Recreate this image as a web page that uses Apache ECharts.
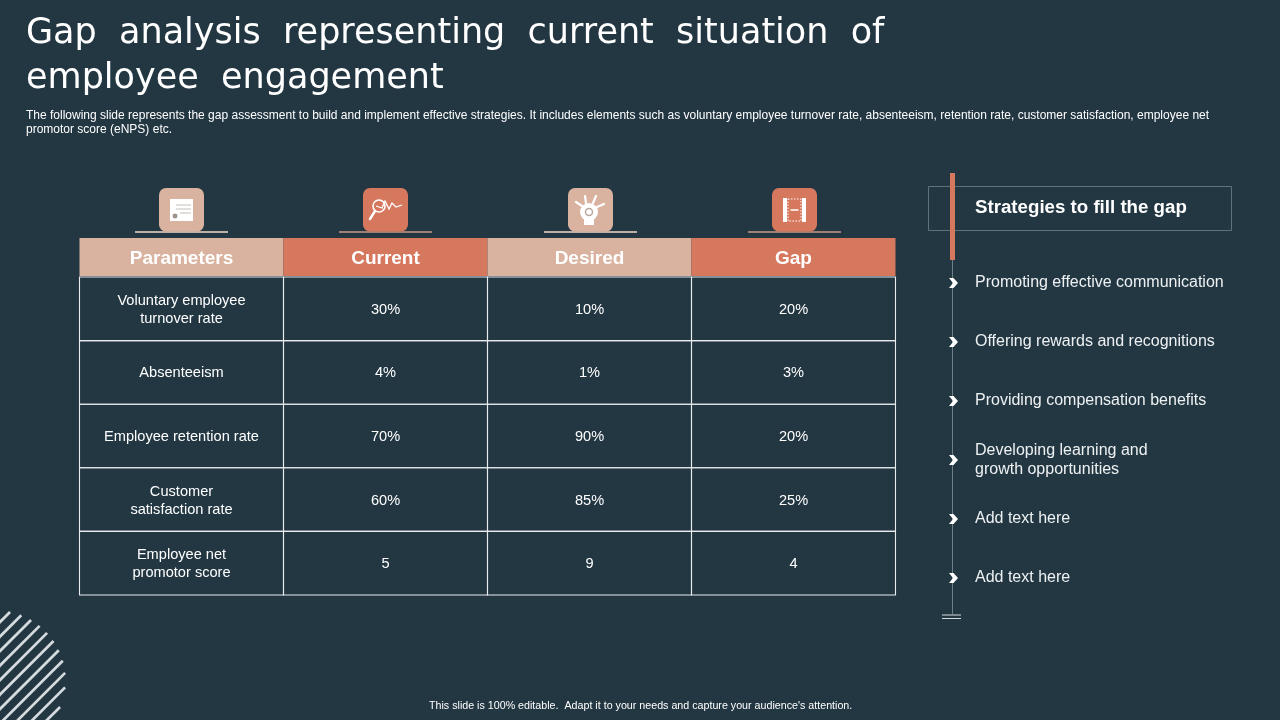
<!DOCTYPE html>
<html>
<head>
<meta charset="utf-8">
<title>Gap analysis</title>
<script src="https://cdn.jsdelivr.net/npm/echarts@6/dist/echarts.min.js"></script>
<style>
    html, body { margin: 0; padding: 0; background: #233743; }
    #main { width: 1280px; height: 720px; }
</style>
</head>
<body>
<div id="main"></div>
<script>
(function() {
    'use strict';

    var columns = ['Parameters', 'Current', 'Desired', 'Gap'];
    var parameters = ['Voluntary employee\nturnover rate', 'Absenteeism', 'Employee retention rate', 'Customer\nsatisfaction rate', 'Employee net\npromotor score'];
    var current = ['30%', '4%', '70%', '60%', '5'];
    var desired = ['10%', '1%', '90%', '85%', '9'];
    var gap = ['20%', '3%', '20%', '25%', '4'];
    var strategies = ['Promoting effective communication', 'Offering rewards and recognitions', 'Providing compensation benefits', 'Developing learning and\ngrowth opportunities', 'Add text here', 'Add text here'];

    var BG = '#233743';
    var SALMON = '#D6785E';
    var TAN = '#D9B3A0';
    var SANS = '"Liberation Sans", Arial, sans-serif';

    var myChart = echarts.init(document.getElementById('main'));

    // table cells, one [col, row, text] per cell
    var headerCells = columns.map(function(c, i) {
        return [i, 0, c];
    });
    var bodyCells = [];
    [parameters, current, desired, gap].forEach(function(col, i) {
        col.forEach(function(t, r) {
            bodyCells.push([i, r, t]);
        });
    });

    var renderHeader = function(params, api) {
        var i = api.value(0);
        var c = api.coord([i, 0]);
        var s = api.size([1, 1]);
        return {
            type: 'group',
            children: [{
                type: 'rect',
                shape: { x: c[0] - s[0] / 2, y: c[1] - s[1] / 2, width: s[0], height: s[1] },
                style: { fill: i % 2 === 0 ? TAN : SALMON }
            }, {
                type: 'text',
                style: {
                    x: c[0], y: c[1] + 1.5, text: columns[i], fill: '#fff',
                    align: 'center', verticalAlign: 'middle',
                    font: 'bold 19px ' + SANS
                }
            }]
        };
    };

    var renderBody = function(params, api) {
        var c = api.coord([api.value(0), api.value(1)]);
        var s = api.size([1, 1]);
        return {
            type: 'group',
            children: [{
                type: 'rect',
                shape: { x: c[0] - s[0] / 2, y: c[1] - s[1] / 2, width: s[0], height: s[1] },
                style: { fill: 'none', stroke: '#E8ECEE', lineWidth: 1.1 }
            }, {
                type: 'text',
                style: {
                    x: c[0], y: c[1] + 1, text: bodyCells[params.dataIndex][2], fill: '#fff',
                    align: 'center', verticalAlign: 'middle', lineHeight: 18,
                    font: '14.6px ' + SANS
                }
            }]
        };
    };

    // hatched circle bottom left
    var hatch = [];
    var cx = -4, cy = 680, rad = 69.5;
    for (var k = 622; k < 800; k += 14.5) {
        var d = (k - cx - cy) / Math.SQRT2;
        if (Math.abs(d) >= rad) continue;
        var h = Math.sqrt(rad * rad - d * d);
        var mx = cx + d / Math.SQRT2, my = cy + d / Math.SQRT2;
        var off = h / Math.SQRT2;
        hatch.push({
            type: 'line',
            shape: { x1: mx - off, y1: my + off, x2: mx + off, y2: my - off },
            style: { stroke: '#D5DBDE', lineWidth: 2.7 }
        });
    }

    var iconLine = function(x1, y1, x2, y2, w) {
        return {
            type: 'line',
            shape: { x1: x1, y1: y1, x2: x2, y2: y2 },
            style: { stroke: '#fff', lineWidth: w || 1.5, lineCap: 'round' }
        };
    };

    var iconBox = function(x, fill, lineColor) {
        return [{
            type: 'line',
            shape: { x1: x - 24, y1: 232, x2: x + 69, y2: 232 },
            style: { stroke: lineColor, lineWidth: 2 }
        }, {
            type: 'rect',
            shape: { x: x, y: 188, width: 45, height: 43.5, r: 7 },
            style: { fill: fill }
        }];
    };

    var iconDoc = [
        { type: 'rect', shape: { x: 170, y: 199, width: 23, height: 22 }, style: { fill: '#fff' } },
        { type: 'line', shape: { x1: 176, y1: 205, x2: 191, y2: 205 }, style: { stroke: '#C9BDB5', lineWidth: 1 } },
        { type: 'line', shape: { x1: 176, y1: 209, x2: 191, y2: 209 }, style: { stroke: '#C9BDB5', lineWidth: 1 } },
        { type: 'line', shape: { x1: 180, y1: 213, x2: 191, y2: 213 }, style: { stroke: '#C9BDB5', lineWidth: 1 } },
        { type: 'circle', shape: { cx: 175, cy: 216, r: 3 }, style: { fill: '#9F9288', stroke: '#fff', lineWidth: 1 } }
    ];
    var iconSearch = [
        { type: 'circle', shape: { cx: 379, cy: 206, r: 6 }, style: { fill: 'none', stroke: '#fff', lineWidth: 1.6 } },
        iconLine(375, 211, 370, 219, 2.4),
        { type: 'polyline', shape: { points: [[376, 206], [382, 208], [385, 201], [389, 209], [392, 203], [396, 207], [402, 205]] }, style: { fill: 'none', stroke: '#fff', lineWidth: 1.3 } }
    ];
    var iconHand = [
        { type: 'circle', shape: { cx: 589, cy: 212, r: 9 }, style: { fill: '#fff' } },
        { type: 'rect', shape: { x: 584, y: 216, width: 10, height: 9 }, style: { fill: '#fff' } },
        { type: 'circle', shape: { cx: 589, cy: 212, r: 3.5 }, style: { fill: 'none', stroke: '#B9A79C', lineWidth: 1.5 } },
        iconLine(582, 206, 576, 202, 2.2),
        iconLine(586, 203, 585, 196, 2.2),
        iconLine(593, 203, 596, 196, 2.2),
        iconLine(597, 207, 604, 204, 2.2)
    ];
    var iconGap = [
        { type: 'rect', shape: { x: 783, y: 198, width: 4, height: 24 }, style: { fill: '#fff' } },
        { type: 'rect', shape: { x: 802, y: 198, width: 4, height: 24 }, style: { fill: '#fff' } },
        { type: 'rect', shape: { x: 788, y: 199, width: 13, height: 22 }, style: { fill: 'none', stroke: '#fff', lineWidth: 1, lineDash: [1.5, 1.5] } },
        iconLine(791, 210, 798, 210, 1.5)
    ];

    var decor = [].concat(
        hatch,
        iconBox(159, TAN, '#BDB0A6'), iconDoc,
        iconBox(363, SALMON, '#A27F75'), iconSearch,
        iconBox(568, TAN, '#BDB0A6'), iconHand,
        iconBox(772, SALMON, '#A27F75'), iconGap
    );

    var option = {
        backgroundColor: BG,
        animation: false,
        title: [{
            // double spaces stand in for the justified word gaps of the slide
            text: 'Gap  analysis  representing  current  situation  of\nemployee  engagement',
            left: 26, top: 11, padding: 0,
            textStyle: { color: '#fff', fontFamily: '"DejaVu Sans"', fontWeight: 'normal', fontSize: 35, lineHeight: 45 }
        }, {
            text: 'The following slide represents the gap assessment to build and implement effective strategies. It includes elements such as voluntary employee turnover rate, absenteeism, retention rate, customer satisfaction, employee net\npromotor score (eNPS) etc.',
            left: 26, top: 109, padding: 0,
            textStyle: { color: '#fff', fontFamily: SANS, fontWeight: 'normal', fontSize: 12, lineHeight: 14 }
        }, {
            text: 'Strategies to fill the gap',
            left: 975, top: 198, padding: 0,
            textStyle: { color: '#fff', fontFamily: SANS, fontWeight: 'bold', fontSize: 18.7 }
        }, {
            text: 'This slide is 100% editable.  Adapt it to your needs and capture your audience\'s attention.',
            left: 429, top: 701, padding: 0,
            textStyle: { color: '#fff', fontFamily: SANS, fontWeight: 'normal', fontSize: 10.7 }
        }],
        grid: [
            { left: 79.5, top: 238, width: 816, height: 38 },
            { left: 79.5, top: 277, width: 816, height: 318 },
            { left: 953.5, top: 253.5, width: 270, height: 354 }
        ],
        xAxis: [
            { gridIndex: 0, type: 'category', data: columns, show: false },
            { gridIndex: 1, type: 'category', data: columns, show: false },
            { gridIndex: 2, type: 'value', min: 0, max: 1, show: false }
        ],
        yAxis: [
            { gridIndex: 0, type: 'category', data: ['header'], show: false },
            { gridIndex: 1, type: 'category', data: parameters, inverse: true, show: false },
            { gridIndex: 2, type: 'category', data: strategies, inverse: true, show: false }
        ],
        series: [{
            type: 'custom',
            xAxisIndex: 0,
            yAxisIndex: 0,
            renderItem: renderHeader,
            data: headerCells
        }, {
            type: 'custom',
            xAxisIndex: 1,
            yAxisIndex: 1,
            renderItem: renderBody,
            data: bodyCells
        }, {
            type: 'scatter',
            xAxisIndex: 2,
            yAxisIndex: 2,
            z: 5,
            symbol: 'path://M0,0 L4.5,0 L9,5 L4.5,10 L0,10 L4,5 Z',
            symbolSize: [9, 10],
            itemStyle: { color: '#fff', opacity: 1 },
            label: {
                show: true,
                position: 'right',
                distance: 17,
                color: '#EEF1F2',
                fontFamily: SANS,
                fontSize: 16,
                lineHeight: 19,
                align: 'left',
                formatter: function(p) {
                    return strategies[p.dataIndex];
                }
            },
            data: strategies.map(function(s, i) {
                return [0, i];
            })
        }],
        graphic: { elements: decor.concat([
            { type: 'line', z: -1, shape: { x1: 952.5, y1: 258, x2: 952.5, y2: 614 }, style: { stroke: '#6E8087', lineWidth: 1 } },
            { type: 'rect', z: -1, shape: { x: 928.5, y: 186.5, width: 303, height: 44 }, style: { fill: 'none', stroke: '#5E7279', lineWidth: 1 } },
            { type: 'rect', shape: { x: 950, y: 173, width: 5, height: 87 }, style: { fill: SALMON } },
            { type: 'line', shape: { x1: 942, y1: 615, x2: 961, y2: 615 }, style: { stroke: '#D5DBDE', lineWidth: 1 } },
            { type: 'line', shape: { x1: 942, y1: 618.5, x2: 961, y2: 618.5 }, style: { stroke: '#D5DBDE', lineWidth: 1 } }
        ]) }
    };

    myChart.setOption(option);
})();
</script>
</body>
</html>
